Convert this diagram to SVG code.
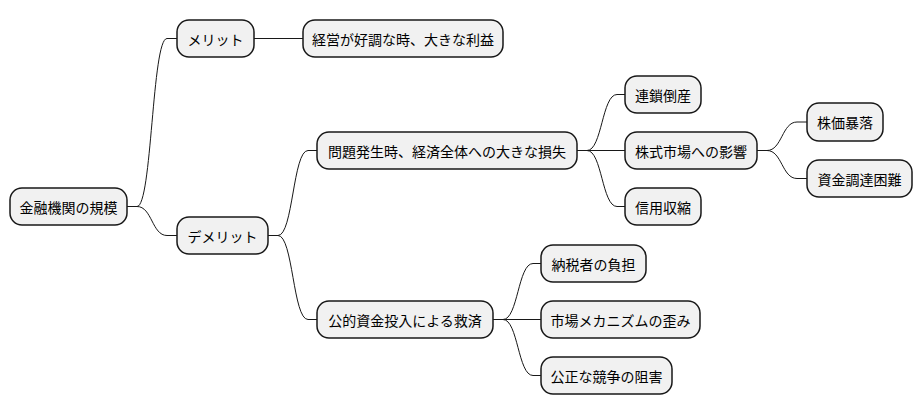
<svg xmlns="http://www.w3.org/2000/svg" width="922" height="415" viewBox="0 0 922 415">
<style>
.n rect{fill:#F1F1F1;stroke:#181818;stroke-width:1.5}
.n text{font-family:"Noto Sans CJK JP","Noto Sans",sans-serif;font-size:14px;fill:#000;text-anchor:middle;dominant-baseline:central}
#edges path{fill:none;stroke:#181818;stroke-width:1}
</style>
<rect width="922" height="415" fill="#fff"/>
<g id="edges">
<path d="M127,206.5 L137,206.5 C152,206.5 152,38.5 167,38.5 L177,38.5"/>
<path d="M127,206.5 L137,206.5 C152,206.5 152,235.5 167,235.5 L177,235.5"/>
<path d="M254,38.5 L303,38.5"/>
<path d="M268,235.5 L278,235.5 C293,235.5 293,150.5 308,150.5 L317,150.5"/>
<path d="M268,235.5 L278,235.5 C293,235.5 293,319.5 308,319.5 L317,319.5"/>
<path d="M577,150.5 L587,150.5 C602,150.5 602,94.5 617,94.5 L625,94.5"/>
<path d="M577,150.5 L625,150.5"/>
<path d="M577,150.5 L587,150.5 C602,150.5 602,206.5 617,206.5 L625,206.5"/>
<path d="M757,150.5 L767,150.5 C782,150.5 782,122 797,122 L807,122"/>
<path d="M757,150.5 L767,150.5 C782,150.5 782,178.5 797,178.5 L807,178.5"/>
<path d="M493,319.5 L503,319.5 C518,319.5 518,263.5 533,263.5 L541,263.5"/>
<path d="M493,319.5 L541,319.5"/>
<path d="M493,319.5 L503,319.5 C518,319.5 518,375.5 533,375.5 L541,375.5"/>
</g>
<g id="root" class="n"><rect x="10" y="188" width="117" height="37" rx="12"/><text x="68.5" y="206.5">金融機関の規模</text></g>
<g id="merit" class="n"><rect x="177" y="20" width="77" height="37" rx="12"/><text x="215.5" y="38.5">メリット</text></g>
<g id="profit" class="n"><rect x="303" y="20" width="200" height="37" rx="12"/><text x="403" y="38.5">経営が好調な時、大きな利益</text></g>
<g id="demerit" class="n"><rect x="177" y="217" width="91" height="37" rx="12"/><text x="222.5" y="235.5">デメリット</text></g>
<g id="loss" class="n"><rect x="317" y="132" width="260" height="37" rx="12"/><text x="447" y="150.5">問題発生時、経済全体への大きな損失</text></g>
<g id="chain" class="n"><rect x="625" y="76" width="76" height="37" rx="12"/><text x="663" y="94.5">連鎖倒産</text></g>
<g id="stock" class="n"><rect x="625" y="132" width="132" height="37" rx="12"/><text x="691" y="150.5">株式市場への影響</text></g>
<g id="credit" class="n"><rect x="625" y="188" width="76" height="37" rx="12"/><text x="663" y="206.5">信用収縮</text></g>
<g id="crash" class="n"><rect x="807" y="103" width="76" height="38" rx="12"/><text x="845" y="122">株価暴落</text></g>
<g id="funding" class="n"><rect x="807" y="160" width="105" height="37" rx="12"/><text x="859.5" y="178.5">資金調達困難</text></g>
<g id="bailout" class="n"><rect x="317" y="301" width="176" height="37" rx="12"/><text x="405" y="319.5">公的資金投入による救済</text></g>
<g id="taxpayer" class="n"><rect x="541" y="245" width="105" height="37" rx="12"/><text x="593.5" y="263.5">納税者の負担</text></g>
<g id="distort" class="n"><rect x="541" y="301" width="159" height="37" rx="12"/><text x="620.5" y="319.5">市場メカニズムの歪み</text></g>
<g id="compete" class="n"><rect x="541" y="357" width="131" height="37" rx="12"/><text x="606.5" y="375.5">公正な競争の阻害</text></g>
</svg>
